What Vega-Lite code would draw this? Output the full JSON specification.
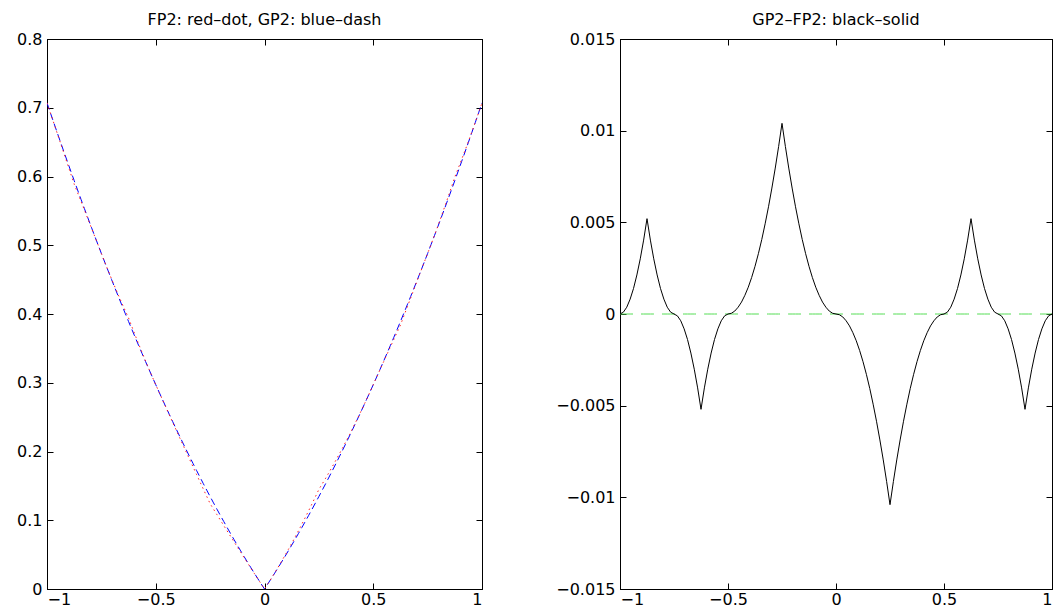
{
  "$schema": "https://vega.github.io/schema/vega-lite/v6.json",
  "background": "white",
  "padding": {"left": 16, "top": 11, "right": 0, "bottom": 0},
  "config": {
    "font": "DejaVu Sans",
    "view": {"stroke": "black", "strokeWidth": 1},
    "axis": {
      "grid": false,
      "domainColor": "black",
      "domainWidth": 1,
      "tickColor": "black",
      "tickSize": -6,
      "labelColor": "black",
      "labelFont": "DejaVu Sans",
      "labelFontSize": 16,
      "title": null
    },
    "axisLeft": {"labelPadding": 11},
    "axisBottom": {"labelPadding": 8},
    "title": {"font": "DejaVu Sans", "fontSize": 16, "fontWeight": "normal", "color": "black", "offset": 3}
  },
  "bounds": "flush",
  "spacing": 138,
  "datasets": {
    "t": [
      {"x": -1, "GP2": 0.7071, "FP2": 0.7071, "diff": 0},
      {"x": -0.984375, "GP2": 0.69258, "FP2": 0.69248, "diff": 0.0001},
      {"x": -0.96875, "GP2": 0.67818, "FP2": 0.67781, "diff": 0.00037},
      {"x": -0.953125, "GP2": 0.66388, "FP2": 0.66307, "diff": 0.00081},
      {"x": -0.9375, "GP2": 0.64969, "FP2": 0.6483, "diff": 0.00139},
      {"x": -0.921875, "GP2": 0.63562, "FP2": 0.63349, "diff": 0.00213},
      {"x": -0.90625, "GP2": 0.62165, "FP2": 0.61864, "diff": 0.00301},
      {"x": -0.890625, "GP2": 0.60779, "FP2": 0.60376, "diff": 0.00403},
      {"x": -0.875, "GP2": 0.59405, "FP2": 0.58885, "diff": 0.0052},
      {"x": -0.859375, "GP2": 0.58041, "FP2": 0.57638, "diff": 0.00403},
      {"x": -0.84375, "GP2": 0.56689, "FP2": 0.56388, "diff": 0.00301},
      {"x": -0.828125, "GP2": 0.55347, "FP2": 0.55134, "diff": 0.00213},
      {"x": -0.8125, "GP2": 0.54017, "FP2": 0.53878, "diff": 0.00139},
      {"x": -0.796875, "GP2": 0.52697, "FP2": 0.52616, "diff": 0.00081},
      {"x": -0.78125, "GP2": 0.51389, "FP2": 0.51352, "diff": 0.00037},
      {"x": -0.765625, "GP2": 0.50091, "FP2": 0.50081, "diff": 0.0001},
      {"x": -0.75, "GP2": 0.48804, "FP2": 0.48804, "diff": 0},
      {"x": -0.734375, "GP2": 0.47529, "FP2": 0.47539, "diff": -0.0001},
      {"x": -0.71875, "GP2": 0.46264, "FP2": 0.46301, "diff": -0.00037},
      {"x": -0.703125, "GP2": 0.45011, "FP2": 0.45092, "diff": -0.00081},
      {"x": -0.6875, "GP2": 0.43768, "FP2": 0.43907, "diff": -0.00139},
      {"x": -0.671875, "GP2": 0.42537, "FP2": 0.4275, "diff": -0.00213},
      {"x": -0.65625, "GP2": 0.41317, "FP2": 0.41618, "diff": -0.00301},
      {"x": -0.640625, "GP2": 0.40107, "FP2": 0.4051, "diff": -0.00403},
      {"x": -0.625, "GP2": 0.38909, "FP2": 0.39429, "diff": -0.0052},
      {"x": -0.609375, "GP2": 0.37721, "FP2": 0.38124, "diff": -0.00403},
      {"x": -0.59375, "GP2": 0.36545, "FP2": 0.36846, "diff": -0.00301},
      {"x": -0.578125, "GP2": 0.35379, "FP2": 0.35592, "diff": -0.00213},
      {"x": -0.5625, "GP2": 0.34225, "FP2": 0.34364, "diff": -0.00139},
      {"x": -0.546875, "GP2": 0.33082, "FP2": 0.33163, "diff": -0.00081},
      {"x": -0.53125, "GP2": 0.31949, "FP2": 0.31986, "diff": -0.00037},
      {"x": -0.515625, "GP2": 0.30828, "FP2": 0.30838, "diff": -0.0001},
      {"x": -0.5, "GP2": 0.29718, "FP2": 0.29718, "diff": 0},
      {"x": -0.484375, "GP2": 0.28618, "FP2": 0.28614, "diff": 0.00004},
      {"x": -0.46875, "GP2": 0.2753, "FP2": 0.27514, "diff": 0.00016},
      {"x": -0.453125, "GP2": 0.26453, "FP2": 0.26416, "diff": 0.00037},
      {"x": -0.4375, "GP2": 0.25386, "FP2": 0.25321, "diff": 0.00065},
      {"x": -0.421875, "GP2": 0.24331, "FP2": 0.24229, "diff": 0.00102},
      {"x": -0.40625, "GP2": 0.23287, "FP2": 0.23141, "diff": 0.00146},
      {"x": -0.390625, "GP2": 0.22253, "FP2": 0.22054, "diff": 0.00199},
      {"x": -0.375, "GP2": 0.21231, "FP2": 0.20971, "diff": 0.0026},
      {"x": -0.359375, "GP2": 0.2022, "FP2": 0.19891, "diff": 0.00329},
      {"x": -0.34375, "GP2": 0.1922, "FP2": 0.18814, "diff": 0.00406},
      {"x": -0.328125, "GP2": 0.1823, "FP2": 0.17738, "diff": 0.00492},
      {"x": -0.3125, "GP2": 0.17252, "FP2": 0.16667, "diff": 0.00585},
      {"x": -0.296875, "GP2": 0.16285, "FP2": 0.15598, "diff": 0.00687},
      {"x": -0.28125, "GP2": 0.15329, "FP2": 0.14533, "diff": 0.00796},
      {"x": -0.265625, "GP2": 0.14384, "FP2": 0.1347, "diff": 0.00914},
      {"x": -0.25, "GP2": 0.13449, "FP2": 0.12409, "diff": 0.0104},
      {"x": -0.234375, "GP2": 0.12526, "FP2": 0.11612, "diff": 0.00914},
      {"x": -0.21875, "GP2": 0.11614, "FP2": 0.10818, "diff": 0.00796},
      {"x": -0.203125, "GP2": 0.10713, "FP2": 0.10026, "diff": 0.00687},
      {"x": -0.1875, "GP2": 0.09823, "FP2": 0.09238, "diff": 0.00585},
      {"x": -0.171875, "GP2": 0.08944, "FP2": 0.08452, "diff": 0.00492},
      {"x": -0.15625, "GP2": 0.08076, "FP2": 0.0767, "diff": 0.00406},
      {"x": -0.140625, "GP2": 0.07218, "FP2": 0.06889, "diff": 0.00329},
      {"x": -0.125, "GP2": 0.06372, "FP2": 0.06112, "diff": 0.0026},
      {"x": -0.109375, "GP2": 0.05537, "FP2": 0.05338, "diff": 0.00199},
      {"x": -0.09375, "GP2": 0.04713, "FP2": 0.04567, "diff": 0.00146},
      {"x": -0.078125, "GP2": 0.039, "FP2": 0.03798, "diff": 0.00102},
      {"x": -0.0625, "GP2": 0.03098, "FP2": 0.03033, "diff": 0.00065},
      {"x": -0.046875, "GP2": 0.02307, "FP2": 0.0227, "diff": 0.00037},
      {"x": -0.03125, "GP2": 0.01527, "FP2": 0.01511, "diff": 0.00016},
      {"x": -0.015625, "GP2": 0.00758, "FP2": 0.00754, "diff": 0.00004},
      {"x": 0, "GP2": 0, "FP2": 0, "diff": 0},
      {"x": 0.015625, "GP2": 0.00758, "FP2": 0.00762, "diff": -0.00004},
      {"x": 0.03125, "GP2": 0.01527, "FP2": 0.01543, "diff": -0.00016},
      {"x": 0.046875, "GP2": 0.02307, "FP2": 0.02344, "diff": -0.00037},
      {"x": 0.0625, "GP2": 0.03098, "FP2": 0.03163, "diff": -0.00065},
      {"x": 0.078125, "GP2": 0.039, "FP2": 0.04002, "diff": -0.00102},
      {"x": 0.09375, "GP2": 0.04713, "FP2": 0.04859, "diff": -0.00146},
      {"x": 0.109375, "GP2": 0.05537, "FP2": 0.05736, "diff": -0.00199},
      {"x": 0.125, "GP2": 0.06372, "FP2": 0.06632, "diff": -0.0026},
      {"x": 0.140625, "GP2": 0.07218, "FP2": 0.07547, "diff": -0.00329},
      {"x": 0.15625, "GP2": 0.08076, "FP2": 0.08482, "diff": -0.00406},
      {"x": 0.171875, "GP2": 0.08944, "FP2": 0.09436, "diff": -0.00492},
      {"x": 0.1875, "GP2": 0.09823, "FP2": 0.10408, "diff": -0.00585},
      {"x": 0.203125, "GP2": 0.10713, "FP2": 0.114, "diff": -0.00687},
      {"x": 0.21875, "GP2": 0.11614, "FP2": 0.1241, "diff": -0.00796},
      {"x": 0.234375, "GP2": 0.12526, "FP2": 0.1344, "diff": -0.00914},
      {"x": 0.25, "GP2": 0.13449, "FP2": 0.14489, "diff": -0.0104},
      {"x": 0.265625, "GP2": 0.14384, "FP2": 0.15298, "diff": -0.00914},
      {"x": 0.28125, "GP2": 0.15329, "FP2": 0.16125, "diff": -0.00796},
      {"x": 0.296875, "GP2": 0.16285, "FP2": 0.16972, "diff": -0.00687},
      {"x": 0.3125, "GP2": 0.17252, "FP2": 0.17837, "diff": -0.00585},
      {"x": 0.328125, "GP2": 0.1823, "FP2": 0.18722, "diff": -0.00492},
      {"x": 0.34375, "GP2": 0.1922, "FP2": 0.19626, "diff": -0.00406},
      {"x": 0.359375, "GP2": 0.2022, "FP2": 0.20549, "diff": -0.00329},
      {"x": 0.375, "GP2": 0.21231, "FP2": 0.21491, "diff": -0.0026},
      {"x": 0.390625, "GP2": 0.22253, "FP2": 0.22452, "diff": -0.00199},
      {"x": 0.40625, "GP2": 0.23287, "FP2": 0.23433, "diff": -0.00146},
      {"x": 0.421875, "GP2": 0.24331, "FP2": 0.24433, "diff": -0.00102},
      {"x": 0.4375, "GP2": 0.25386, "FP2": 0.25451, "diff": -0.00065},
      {"x": 0.453125, "GP2": 0.26453, "FP2": 0.2649, "diff": -0.00037},
      {"x": 0.46875, "GP2": 0.2753, "FP2": 0.27546, "diff": -0.00016},
      {"x": 0.484375, "GP2": 0.28618, "FP2": 0.28622, "diff": -0.00004},
      {"x": 0.5, "GP2": 0.29718, "FP2": 0.29718, "diff": 0},
      {"x": 0.515625, "GP2": 0.30828, "FP2": 0.30818, "diff": 0.0001},
      {"x": 0.53125, "GP2": 0.31949, "FP2": 0.31912, "diff": 0.00037},
      {"x": 0.546875, "GP2": 0.33082, "FP2": 0.33001, "diff": 0.00081},
      {"x": 0.5625, "GP2": 0.34225, "FP2": 0.34086, "diff": 0.00139},
      {"x": 0.578125, "GP2": 0.35379, "FP2": 0.35166, "diff": 0.00213},
      {"x": 0.59375, "GP2": 0.36545, "FP2": 0.36244, "diff": 0.00301},
      {"x": 0.609375, "GP2": 0.37721, "FP2": 0.37318, "diff": 0.00403},
      {"x": 0.625, "GP2": 0.38909, "FP2": 0.38389, "diff": 0.0052},
      {"x": 0.640625, "GP2": 0.40107, "FP2": 0.39704, "diff": 0.00403},
      {"x": 0.65625, "GP2": 0.41317, "FP2": 0.41016, "diff": 0.00301},
      {"x": 0.671875, "GP2": 0.42537, "FP2": 0.42324, "diff": 0.00213},
      {"x": 0.6875, "GP2": 0.43768, "FP2": 0.43629, "diff": 0.00139},
      {"x": 0.703125, "GP2": 0.45011, "FP2": 0.4493, "diff": 0.00081},
      {"x": 0.71875, "GP2": 0.46264, "FP2": 0.46227, "diff": 0.00037},
      {"x": 0.734375, "GP2": 0.47529, "FP2": 0.47519, "diff": 0.0001},
      {"x": 0.75, "GP2": 0.48804, "FP2": 0.48804, "diff": 0},
      {"x": 0.765625, "GP2": 0.50091, "FP2": 0.50101, "diff": -0.0001},
      {"x": 0.78125, "GP2": 0.51389, "FP2": 0.51426, "diff": -0.00037},
      {"x": 0.796875, "GP2": 0.52697, "FP2": 0.52778, "diff": -0.00081},
      {"x": 0.8125, "GP2": 0.54017, "FP2": 0.54156, "diff": -0.00139},
      {"x": 0.828125, "GP2": 0.55347, "FP2": 0.5556, "diff": -0.00213},
      {"x": 0.84375, "GP2": 0.56689, "FP2": 0.5699, "diff": -0.00301},
      {"x": 0.859375, "GP2": 0.58041, "FP2": 0.58444, "diff": -0.00403},
      {"x": 0.875, "GP2": 0.59405, "FP2": 0.59925, "diff": -0.0052},
      {"x": 0.890625, "GP2": 0.60779, "FP2": 0.61182, "diff": -0.00403},
      {"x": 0.90625, "GP2": 0.62165, "FP2": 0.62466, "diff": -0.00301},
      {"x": 0.921875, "GP2": 0.63562, "FP2": 0.63775, "diff": -0.00213},
      {"x": 0.9375, "GP2": 0.64969, "FP2": 0.65108, "diff": -0.00139},
      {"x": 0.953125, "GP2": 0.66388, "FP2": 0.66469, "diff": -0.00081},
      {"x": 0.96875, "GP2": 0.67818, "FP2": 0.67855, "diff": -0.00037},
      {"x": 0.984375, "GP2": 0.69258, "FP2": 0.69268, "diff": -0.0001},
      {"x": 1, "GP2": 0.7071, "FP2": 0.7071, "diff": 0}
    ]
  },
  "hconcat": [
    {
      "width": 435,
      "height": 550,
      "title": "FP2: red–dot, GP2: blue–dash",
      "data": {"name": "t"},
      "layer": [
        {
          "mark": {"type": "line", "color": "#0000ff", "strokeWidth": 1, "strokeDash": [7, 4], "clip": true},
          "encoding": {
            "x": {"field": "x", "type": "quantitative", "scale": {"domain": [-1, 1], "nice": false, "zero": false},
                  "axis": {"orient": "bottom", "values": [-1, -0.5, 0, 0.5, 1], "format": ".2~g"}},
            "y": {"field": "GP2", "type": "quantitative", "scale": {"domain": [0, 0.8], "nice": false},
                  "axis": {"orient": "left", "values": [0, 0.1, 0.2, 0.3, 0.4, 0.5, 0.6, 0.7, 0.8], "format": ".2~g"}}
          }
        },
        {
          "mark": {"type": "line", "color": "#ff2020", "strokeWidth": 1, "strokeDash": [1.5, 3.5], "clip": true},
          "encoding": {
            "x": {"field": "x", "type": "quantitative",
                  "axis": {"orient": "top", "values": [-1, -0.5, 0, 0.5, 1], "labels": false}},
            "y": {"field": "FP2", "type": "quantitative",
                  "axis": {"orient": "right", "values": [0, 0.1, 0.2, 0.3, 0.4, 0.5, 0.6, 0.7, 0.8], "labels": false}}
          }
        }
      ],
      "resolve": {"axis": {"x": "independent", "y": "independent"}}
    },
    {
      "width": 432,
      "height": 550,
      "title": "GP2–FP2: black–solid",
      "data": {"name": "t"},
      "layer": [
        {
          "mark": {"type": "line", "color": "#55dd55", "strokeWidth": 1, "strokeDash": [13, 8], "clip": true},
          "encoding": {
            "x": {"field": "x", "type": "quantitative", "scale": {"domain": [-1, 1], "nice": false, "zero": false},
                  "axis": {"orient": "top", "values": [-1, -0.5, 0, 0.5, 1], "labels": false}},
            "y": {"datum": 0, "type": "quantitative", "scale": {"domain": [-0.015, 0.015], "nice": false},
                  "axis": {"orient": "right", "values": [-0.015, -0.01, -0.005, 0, 0.005, 0.01, 0.015], "labels": false}}
          }
        },
        {
          "mark": {"type": "line", "color": "black", "strokeWidth": 1, "clip": true},
          "encoding": {
            "x": {"field": "x", "type": "quantitative",
                  "axis": {"orient": "bottom", "values": [-1, -0.5, 0, 0.5, 1], "format": ".2~g"}},
            "y": {"field": "diff", "type": "quantitative",
                  "axis": {"orient": "left", "values": [-0.015, -0.01, -0.005, 0, 0.005, 0.01, 0.015], "format": ".4~g"}}
          }
        }
      ],
      "resolve": {"axis": {"x": "independent", "y": "independent"}}
    }
  ]
}
